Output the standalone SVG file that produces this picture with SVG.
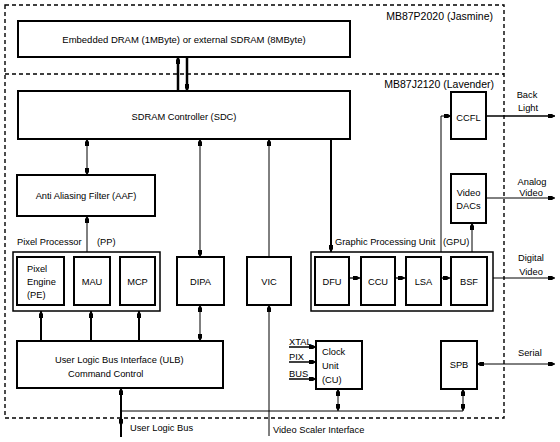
<svg xmlns="http://www.w3.org/2000/svg" width="560" height="442" viewBox="0 0 560 442">
<defs>
<marker id="ar" viewBox="0 0 7 5" refX="7" refY="2.5" markerWidth="7" markerHeight="5" markerUnits="userSpaceOnUse" orient="auto-start-reverse">
<path d="M0,0.5 L4,0.5 L7,2.5 L4,4.5 L0,4.5 z" fill="#000"/>
</marker>
</defs>
<style>
text{font-family:"Liberation Sans",Arial,sans-serif;font-size:9.3px;fill:#000}
.c{text-anchor:middle}
.big{font-size:10.5px}
.box{fill:#fff;stroke:#000;stroke-width:2}
.grp{fill:none;stroke:#000;stroke-width:1.5}
.dash{fill:none;stroke:#000;stroke-width:1.4;stroke-dasharray:4,3}
.t{fill:none;stroke:#000;stroke-width:1}
.k{fill:none;stroke:#000;stroke-width:2}
.a{marker-end:url(#ar)}
.b{marker-start:url(#ar);marker-end:url(#ar)}
</style>
<rect width="560" height="442" fill="#fff"/>
<g id="chips">
<rect class="dash" x="5" y="5" width="499" height="413"/>
<line class="dash" x1="5" y1="74" x2="504" y2="74"/>
<text class="big" x="493" y="20" text-anchor="end">MB87P2020 (Jasmine)</text>
<text class="big" x="494" y="88" text-anchor="end">MB87J2120 (Lavender)</text>
</g>
<g id="connectors">
<line class="k a" x1="178" y1="91" x2="178" y2="57" style="stroke-width:2.5"/>
<line class="k a" x1="187" y1="57" x2="187" y2="91" style="stroke-width:2.5"/>
<line class="t b" x1="87" y1="139" x2="87" y2="175"/>
<line class="t a" x1="87" y1="252" x2="87" y2="216"/>
<line class="t b" x1="200" y1="139" x2="200" y2="257"/>
<line class="t b" x1="200" y1="305" x2="200" y2="341"/>
<line class="t a" x1="269" y1="257" x2="269" y2="139"/>
<line class="t a" x1="269" y1="436" x2="269" y2="305"/>
<line class="k a" x1="41" y1="341" x2="41" y2="311"/>
<line class="k a" x1="91" y1="341" x2="91" y2="311"/>
<line class="k a" x1="139" y1="341" x2="139" y2="311"/>
<line class="k a" x1="121" y1="411" x2="121" y2="388"/>
<line class="k a" x1="121" y1="411" x2="121" y2="426"/>
<line class="k" x1="121" y1="426" x2="121" y2="437"/>
<line class="t" x1="121" y1="411" x2="463" y2="411"/>
<line class="k a" x1="331" y1="139" x2="331" y2="252"/>
<line class="t a" x1="349" y1="278" x2="360" y2="278" style="stroke-width:1.3"/>
<line class="t a" x1="395" y1="278" x2="405" y2="278" style="stroke-width:1.3"/>
<line class="t a" x1="441" y1="278" x2="450" y2="278" style="stroke-width:1.3"/>
<line class="t a" x1="472" y1="252" x2="472" y2="223"/>
<line class="t a" x1="486" y1="198" x2="555" y2="198"/>
<line class="t a" x1="493" y1="278" x2="555" y2="278"/>
<polyline class="t a" points="441,252 441,116 451,116"/>
<line class="k a" x1="486" y1="116" x2="555" y2="116" style="stroke-width:1.5"/>
<line class="k a" x1="289" y1="347" x2="316" y2="347" style="stroke-width:1.5"/>
<line class="k a" x1="289" y1="362" x2="316" y2="362" style="stroke-width:1.5"/>
<line class="k a" x1="289" y1="379" x2="316" y2="379" style="stroke-width:1.5"/>
<line class="t b" x1="338" y1="389" x2="338" y2="411"/>
<line class="t b" x1="463" y1="389" x2="463" y2="411"/>
<line class="t b" x1="477" y1="364" x2="555" y2="364"/>
</g>
<g id="dram">
<rect class="box" x="18" y="21" width="332" height="36"/>
<text class="c" x="184" y="43" style="font-size:9.5px">Embedded DRAM (1MByte) or external SDRAM (8MByte)</text>
</g>
<g id="sdc">
<rect class="box" x="18" y="91" width="332" height="48"/>
<text class="c" x="184" y="120">SDRAM Controller (SDC)</text>
</g>
<g id="aaf">
<rect class="box" x="17" y="175" width="138" height="41"/>
<text class="c" x="86" y="199">Anti Aliasing Filter (AAF)</text>
</g>
<g id="pp">
<text x="17" y="245">Pixel Processor</text>
<text x="97" y="245">(PP)</text>
<rect class="grp" x="13" y="252" width="147" height="59"/>
</g>
<g id="pe">
<rect class="box" x="17" y="257" width="47" height="48"/>
<text x="27" y="272">Pixel</text>
<text x="27" y="285">Engine</text>
<text x="27" y="298">(PE)</text>
</g>
<g id="mau">
<rect class="box" x="74" y="257" width="36" height="48"/>
<text class="c" x="92" y="285">MAU</text>
</g>
<g id="mcp">
<rect class="box" x="120" y="257" width="35" height="48"/>
<text class="c" x="137.5" y="285">MCP</text>
</g>
<g id="dipa">
<rect class="box" x="177" y="257" width="47" height="48"/>
<text class="c" x="200.5" y="285">DIPA</text>
</g>
<g id="vic">
<rect class="box" x="247" y="257" width="44" height="48"/>
<text class="c" x="269" y="285">VIC</text>
</g>
<g id="gpu">
<text x="335" y="245">Graphic Processing Unit</text>
<text x="443" y="245">(GPU)</text>
<rect class="grp" x="311" y="252" width="182" height="59"/>
</g>
<g id="dfu">
<rect class="box" x="315" y="257" width="34" height="48"/>
<text class="c" x="332" y="285">DFU</text>
</g>
<g id="ccu">
<rect class="box" x="361" y="257" width="34" height="48"/>
<text class="c" x="378" y="285">CCU</text>
</g>
<g id="lsa">
<rect class="box" x="406" y="257" width="35" height="48"/>
<text class="c" x="423.5" y="285">LSA</text>
</g>
<g id="bsf">
<rect class="box" x="451" y="257" width="36" height="48"/>
<text class="c" x="469" y="285">BSF</text>
</g>
<g id="dacs">
<rect class="box" x="451" y="174" width="35" height="49"/>
<text class="c" x="468.5" y="196">Video</text>
<text class="c" x="468.5" y="209">DACs</text>
</g>
<g id="ccfl">
<rect class="box" x="451" y="92" width="35" height="47"/>
<text class="c" x="468.5" y="121">CCFL</text>
</g>
<g id="ulb">
<rect class="box" x="17" y="341" width="206" height="47"/>
<text x="55" y="363">User Logic Bus Interface (ULB)</text>
<text x="68" y="377">Command Control</text>
</g>
<g id="cu">
<rect class="box" x="316" y="341" width="46" height="48"/>
<text x="322" y="355">Clock</text>
<text x="322" y="369">Unit</text>
<text x="322" y="383">(CU)</text>
</g>
<g id="spb">
<rect class="box" x="441" y="341" width="36" height="48"/>
<text class="c" x="459" y="368">SPB</text>
</g>
<g id="labels">
<text x="289" y="345">XTAL</text>
<text x="289" y="360">PIX</text>
<text x="289" y="377">BUS</text>
<text class="c" x="527" y="98">Back</text>
<text class="c" x="528" y="111">Light</text>
<text class="c" x="532" y="185">Analog</text>
<text class="c" x="531" y="196">Video</text>
<text class="c" x="531" y="261">Digital</text>
<text class="c" x="531" y="275">Video</text>
<text x="518" y="356">Serial</text>
<text x="130" y="431">User Logic Bus</text>
<text x="273" y="433">Video Scaler Interface</text>
</g>
</svg>
